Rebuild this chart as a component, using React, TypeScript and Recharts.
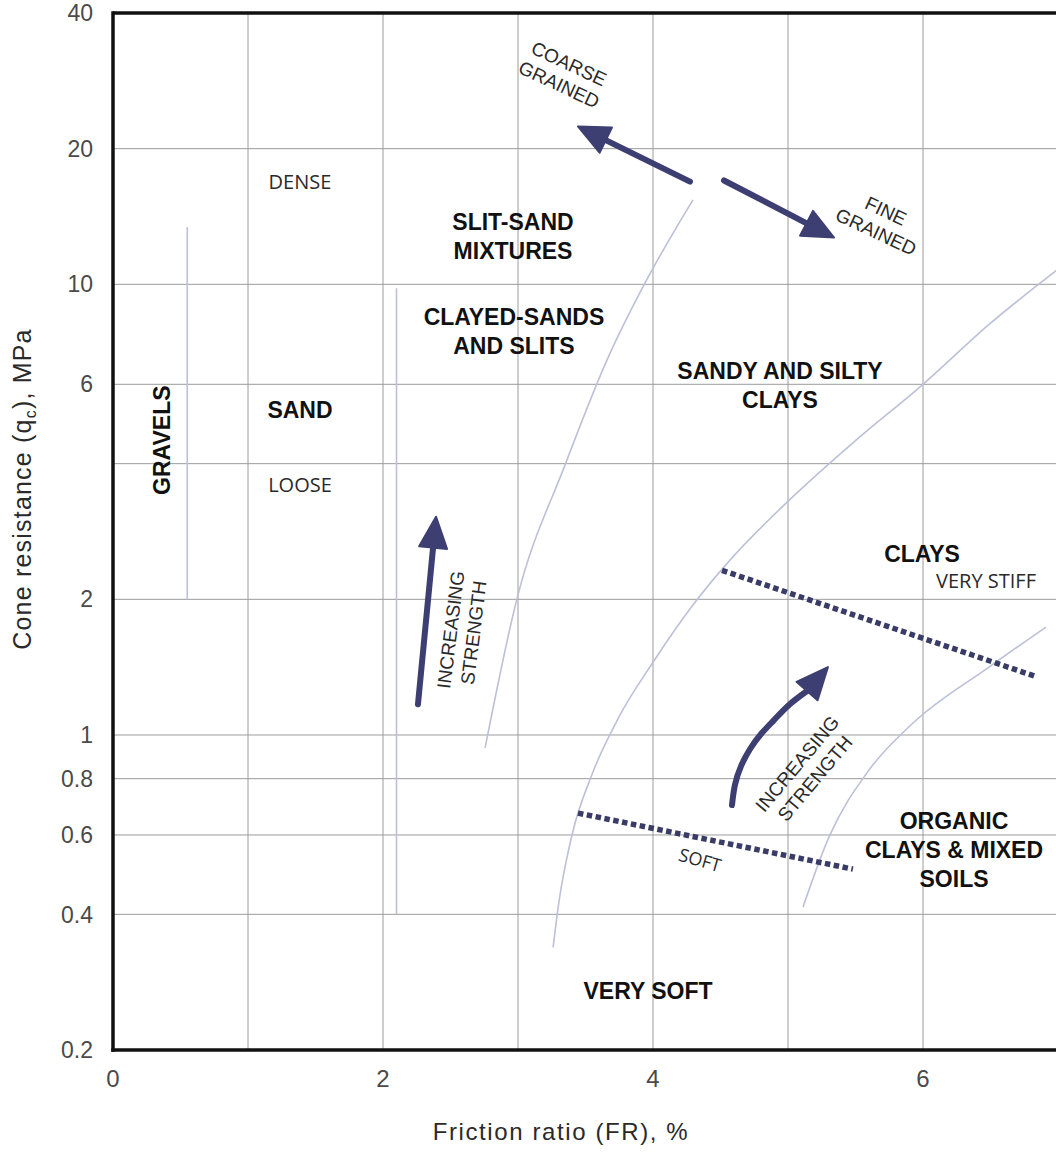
import React from 'react';
import { ComposedChart, Line, XAxis, YAxis, ReferenceLine, ReferenceDot } from 'recharts';

// ---------- axes ----------
const xTicks = [0, 2, 4, 6];
const yTicks = [0.2, 0.4, 0.6, 0.8, 1, 2, 6, 10, 20, 40];
const xGrid = [1, 2, 3, 4, 5, 6];
const yGrid = [0.4, 0.6, 0.8, 1, 2, 4, 6, 10, 20];

// ---------- zone boundaries (friction ratio %, cone resistance MPa) ----------
const gravelBoundary = [
  { fr: 0.55, q: 2 },
  { fr: 0.55, q: 13.4 },
];
const sandBoundary = [
  { fr: 2.1, q: 0.4 },
  { fr: 2.1, q: 9.8 },
];
const siltBoundary = [
  { fr: 2.756, q: 0.936 },
  { fr: 2.993, q: 2.01 },
  { fr: 3.348, q: 3.97 },
  { fr: 3.659, q: 6.79 },
  { fr: 3.941, q: 10.07 },
  { fr: 4.296, q: 15.4 },
];
const clayBoundary = [
  { fr: 3.26, q: 0.338 },
  { fr: 3.3, q: 0.42 },
  { fr: 3.4, q: 0.6 },
  { fr: 3.55, q: 0.82 },
  { fr: 3.75, q: 1.1 },
  { fr: 4.0, q: 1.45 },
  { fr: 4.3, q: 1.95 },
  { fr: 4.6, q: 2.5 },
  { fr: 5.0, q: 3.3 },
  { fr: 5.5, q: 4.5 },
  { fr: 6.0, q: 6.0 },
  { fr: 6.5, q: 8.2 },
  { fr: 7.0, q: 10.8 },
];
const organicBoundary = [
  { fr: 5.111, q: 0.415 },
  { fr: 5.304, q: 0.594 },
  { fr: 5.6, q: 0.836 },
  { fr: 5.926, q: 1.063 },
  { fr: 6.489, q: 1.415 },
  { fr: 6.911, q: 1.736 },
];

// ---------- consistency lines (dotted) ----------
const veryStiffLine = [
  { fr: 4.511, q: 2.32 },
  { fr: 6.83, q: 1.35 },
];
const softLine = [
  { fr: 3.444, q: 0.671 },
  { fr: 5.481, q: 0.504 },
];

// ---------- arrows (tail -> tip) ----------
const coarseArrow = [
  { fr: 4.274, q: 16.9 },
  { fr: 3.444, q: 22.4 },
];
const fineArrow = [
  { fr: 4.526, q: 17.0 },
  { fr: 5.341, q: 12.7 },
];
const sandStrengthArrow = [
  { fr: 2.259, q: 1.17 },
  { fr: 2.393, q: 3.05 },
];
const clayStrengthShaft = [
  { fr: 4.585, q: 0.699 },
  { fr: 4.607, q: 0.775 },
  { fr: 4.652, q: 0.853 },
  { fr: 4.719, q: 0.931 },
  { fr: 4.8, q: 1.005 },
  { fr: 4.896, q: 1.079 },
  { fr: 5.007, q: 1.166 },
  { fr: 5.141, q: 1.252 },
];
const clayStrengthHead = [
  { fr: 5.141, q: 1.252 },
  { fr: 5.296, q: 1.415 },
];

// ---------- zone labels ----------
type Kind = 'bold' | 'thin' | 'note' | 'soft';
const labels: { lines: string[]; fr: number; q: number; kind: Kind; angle: number }[] = [
  { lines: ['DENSE'], fr: 1.385, q: 16.9, kind: 'thin', angle: 0 },
  { lines: ['LOOSE'], fr: 1.385, q: 3.59, kind: 'thin', angle: 0 },
  { lines: ['SAND'], fr: 1.385, q: 5.26, kind: 'bold', angle: 0 },
  { lines: ['GRAVELS'], fr: 0.363, q: 4.51, kind: 'bold', angle: -90 },
  { lines: ['SLIT-SAND', 'MIXTURES'], fr: 2.963, q: 12.8, kind: 'bold', angle: 0 },
  { lines: ['CLAYED-SANDS', 'AND SLITS'], fr: 2.97, q: 7.88, kind: 'bold', angle: 0 },
  { lines: ['SANDY AND SILTY', 'CLAYS'], fr: 4.941, q: 5.98, kind: 'bold', angle: 0 },
  { lines: ['CLAYS'], fr: 5.993, q: 2.53, kind: 'bold', angle: 0 },
  { lines: ['VERY STIFF'], fr: 6.467, q: 2.2, kind: 'thin', angle: 0 },
  { lines: ['ORGANIC', 'CLAYS & MIXED', 'SOILS'], fr: 6.23, q: 0.557, kind: 'bold', angle: 0 },
  { lines: ['VERY SOFT'], fr: 3.963, q: 0.27, kind: 'bold', angle: 0 },
  { lines: ['SOFT'], fr: 4.348, q: 0.528, kind: 'soft', angle: 16 },
  { lines: ['COARSE', 'GRAINED'], fr: 3.341, q: 29.3, kind: 'note', angle: 25 },
  { lines: ['FINE', 'GRAINED'], fr: 5.689, q: 13.8, kind: 'note', angle: 25 },
  { lines: ['INCREASING', 'STRENGTH'], fr: 2.585, q: 1.7, kind: 'note', angle: -83 },
  { lines: ['INCREASING', 'STRENGTH'], fr: 5.133, q: 0.832, kind: 'note', angle: -50 },
];

// ---------- styles ----------
const SANS = '"Liberation Sans", Arial, Helvetica, sans-serif';
const kindStyle: Record<Kind, { size: number; weight: number; family: string; fill: string; lh: number }> = {
  bold: { size: 23, weight: 700, family: SANS, fill: '#111', lh: 29 },
  thin: { size: 20, weight: 400, family: '"Open Sans", sans-serif', fill: '#2a2a2a', lh: 24 },
  soft: { size: 18, weight: 400, family: '"Open Sans", sans-serif', fill: '#2a2a2a', lh: 22 },
  note: { size: 19, weight: 400, family: SANS, fill: '#2a2a2a', lh: 23 },
};
const ARROW = '#3d3f72';
const BOUNDARY = '#bcc0d8';
const GRID = '#9c9c9c';
const FRAME = '#111';

const labelShape = (lines: string[], kind: Kind, angle: number) => (p: any) => {
  const { cx, cy } = p;
  const s = kindStyle[kind];
  const n = lines.length;
  return (
    <g transform={`rotate(${angle} ${cx} ${cy})`}>
      <text
        textAnchor="middle"
        fontSize={s.size}
        fontWeight={s.weight}
        fontFamily={s.family}
        fill={s.fill}
      >
        {lines.map((l, i) => (
          <tspan key={i} x={cx} y={cy + (i - (n - 1) / 2) * s.lh + s.size * 0.358}>
            {l}
          </tspan>
        ))}
      </text>
    </g>
  );
};

const arrowShape = (withShaft: boolean) => (p: any) => {
  const { x1, y1, x2, y2 } = p;
  const dx = x2 - x1;
  const dy = y2 - y1;
  const len = Math.hypot(dx, dy) || 1;
  const ux = dx / len;
  const uy = dy / len;
  const hl = withShaft ? 31 : len;
  const hw = 14;
  const bx = x2 - ux * hl;
  const by = y2 - uy * hl;
  const pts = `${x2},${y2} ${bx - uy * hw},${by + ux * hw} ${bx + uy * hw},${by - ux * hw}`;
  return (
    <g>
      {withShaft && (
        <line
          x1={x1}
          y1={y1}
          x2={bx + ux * 4}
          y2={by + uy * 4}
          stroke={ARROW}
          strokeWidth={6}
          strokeLinecap="round"
        />
      )}
      <polygon points={pts} fill={ARROW} stroke={ARROW} strokeWidth={2} strokeLinejoin="round" />
    </g>
  );
};

const seg = (a: { fr: number; q: number }[]) => [
  { x: a[0].fr, y: a[0].q },
  { x: a[1].fr, y: a[1].q },
];

const YLabel = (props: any) => {
  const vb = props.viewBox || { x: 0, y: 13 };
  const cx = vb.x + 22;
  const cy = vb.y + 476;
  return (
    <text
      transform={`rotate(-90 ${cx} ${cy})`}
      x={cx}
      y={cy + 9}
      textAnchor="middle"
      fontSize={25}
      fontFamily={SANS}
      fill="#2a2a2a"
      letterSpacing={1.2}
    >
      Cone resistance (q
      <tspan fontSize={16} dy={5}>
        c
      </tspan>
      <tspan dy={-5}>), MPa</tspan>
    </text>
  );
};

const XLabel = (props: any) => {
  const vb = props.viewBox || { x: 113, y: 1050 };
  return (
    <text
      x={vb.x + 448}
      y={vb.y + 90}
      textAnchor="middle"
      fontSize={24}
      fontFamily={SANS}
      fill="#2a2a2a"
      letterSpacing={1.6}
    >
      Friction ratio (FR), %
    </text>
  );
};

const boundaries = [gravelBoundary, sandBoundary, siltBoundary, clayBoundary, organicBoundary];

export default function App() {
  return (
    <div
      style={{
        position: 'absolute',
        left: 0,
        top: 0,
        width: 1056,
        height: 1153,
        overflow: 'hidden',
        background: '#fff',
      }}
    >
      <ComposedChart width={1058} height={1153} margin={{ top: 13, right: 0, bottom: 0, left: 0 }}>
        <XAxis
          type="number"
          dataKey="fr"
          domain={[0, 7]}
          ticks={xTicks}
          interval={0}
          allowDataOverflow
          height={103}
          tickLine={false}
          tickSize={0}
          tickMargin={20}
          axisLine={{ stroke: FRAME, strokeWidth: 3.5, strokeLinecap: 'square' }}
          tick={{ fontSize: 24, fill: '#4a4a4a', fontFamily: SANS }}
          label={{ content: XLabel }}
        />
        <YAxis
          type="number"
          dataKey="q"
          scale="log"
          domain={[0.2, 40]}
          ticks={yTicks}
          interval={0}
          allowDataOverflow
          width={113}
          tickLine={false}
          tickSize={0}
          tickMargin={20}
          axisLine={{ stroke: FRAME, strokeWidth: 3.5, strokeLinecap: 'square' }}
          tick={{ fontSize: 23, fill: '#4a4a4a', fontFamily: SANS }}
          label={{ content: YLabel }}
        />

        {xGrid.map((v) => (
          <ReferenceLine key={`gx${v}`} x={v} stroke={GRID} strokeWidth={1} ifOverflow="visible" />
        ))}
        {yGrid.map((v) => (
          <ReferenceLine key={`gy${v}`} y={v} stroke={GRID} strokeWidth={1} ifOverflow="visible" />
        ))}
        <ReferenceLine y={40} stroke={FRAME} strokeWidth={3.5} ifOverflow="visible" />

        {boundaries.map((d, i) => (
          <Line
            key={`b${i}`}
            data={d}
            dataKey="q"
            type={d.length > 2 ? 'monotone' : 'linear'}
            stroke={BOUNDARY}
            strokeWidth={1.6}
            dot={false}
            activeDot={false}
            isAnimationActive={false}
          />
        ))}

        <Line
          data={veryStiffLine}
          dataKey="q"
          type="linear"
          stroke="#3a3c68"
          strokeWidth={5.5}
          strokeDasharray="5.5 3.5"
          dot={false}
          activeDot={false}
          isAnimationActive={false}
        />
        <Line
          data={softLine}
          dataKey="q"
          type="linear"
          stroke="#3a3c68"
          strokeWidth={5.5}
          strokeDasharray="5.5 3.5"
          dot={false}
          activeDot={false}
          isAnimationActive={false}
        />

        <Line
          data={clayStrengthShaft}
          dataKey="q"
          type="natural"
          stroke={ARROW}
          strokeWidth={6}
          strokeLinecap="round"
          dot={false}
          activeDot={false}
          isAnimationActive={false}
        />
        <ReferenceLine segment={seg(clayStrengthHead)} ifOverflow="visible" shape={arrowShape(false)} />
        <ReferenceLine segment={seg(coarseArrow)} ifOverflow="visible" shape={arrowShape(true)} />
        <ReferenceLine segment={seg(fineArrow)} ifOverflow="visible" shape={arrowShape(true)} />
        <ReferenceLine segment={seg(sandStrengthArrow)} ifOverflow="visible" shape={arrowShape(true)} />

        {labels.map((l, i) => (
          <ReferenceDot
            key={`l${i}`}
            x={l.fr}
            y={l.q}
            r={1}
            ifOverflow="visible"
            shape={labelShape(l.lines, l.kind, l.angle)}
          />
        ))}
      </ComposedChart>
    </div>
  );
}
